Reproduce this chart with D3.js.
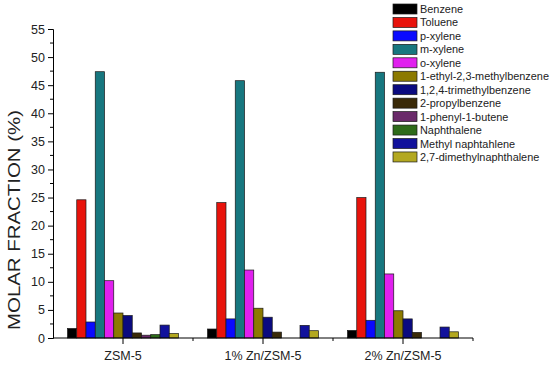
<!DOCTYPE html>
<html>
<head>
<meta charset="utf-8">
<script src="https://cdn.jsdelivr.net/npm/d3@7"></script>
<style>
  body { margin: 0; background: #fff; }
  svg { font-family: Arial, "Liberation Sans", sans-serif; }
</style>
</head>
<body>
<svg id="chart" width="550" height="370"></svg>
<script>
// catalysts (x groups)
let groups = ['ZSM-5', '1% Zn/ZSM-5', '2% Zn/ZSM-5'];

// compounds (series)
let compounds = ['Benzene', 'Toluene', 'p-xylene', 'm-xylene', 'o-xylene',
	'1-ethyl-2,3-methylbenzene', '1,2,4-trimethylbenzene', '2-propylbenzene',
	'1-phenyl-1-butene', 'Naphthalene', 'Methyl naphtahlene', '2,7-dimethylnaphthalene'];

let compoundColors = ['#000000', '#e8130c', '#0a0aff', '#17777f', '#e020ee',
	'#8c7a00', '#0a0a80', '#3a2a08', '#6a2a6a', '#2e6b1a', '#12129c', '#b3a820'];

// molar fraction (%) per compound, one array per catalyst
let valuesZSM5 = [1.7, 24.6, 2.85, 47.4, 10.2, 4.45, 4.0, 0.9, 0.5, 0.6, 2.3, 0.8];
let valuesZn1 = [1.6, 24.1, 3.4, 45.8, 12.1, 5.3, 3.7, 1.05, 0, 0, 2.25, 1.3];
let valuesZn2 = [1.35, 25.0, 3.15, 47.3, 11.4, 4.85, 3.4, 1.0, 0, 0, 1.95, 1.1];

let yTicks = [0, 5, 10, 15, 20, 25, 30, 35, 40, 45, 50, 55];

let allValues = [valuesZSM5, valuesZn1, valuesZn2];

let svg = d3.select('#chart');

let x0 = d3.scaleBand().domain(groups).range([53, 473]);
let x1 = d3.scaleBand().domain(compounds).range([14.5, x0.bandwidth() - 14.5]);
let y = d3.scaleLinear().domain([0, 55]).range([338, 29]);

// bars
groups.forEach(function (g, gi) {
	let grp = svg.append('g').attr('transform', 'translate(' + x0(g) + ',0)');
	grp.selectAll('rect')
		.data(compounds.map(function (c, ci) { return {name: c, value: allValues[gi][ci], color: compoundColors[ci]}; })
			.filter(function (d) { return d.value > 0; }))
		.enter().append('rect')
		.attr('x', function (d) { return x1(d.name); })
		.attr('y', function (d) { return y(d.value); })
		.attr('width', x1.bandwidth())
		.attr('height', function (d) { return y(0) - y(d.value); })
		.attr('fill', function (d) { return d.color; })
		.attr('stroke', '#1a1a1a')
		.attr('stroke-width', 0.7);
});

// y axis
let yAxis = d3.axisLeft(y).tickValues(yTicks).tickSize(5).tickPadding(3);
let gy = svg.append('g').attr('transform', 'translate(53,0)').call(yAxis);
gy.select('.domain').attr('stroke', '#000');
gy.selectAll('.tick text').attr('font-size', 12.5).attr('fill', '#222');
// minor ticks
let minor = d3.range(2.5, 55, 5);
gy.selectAll('.minor').data(minor).enter().append('line')
	.attr('x1', 0).attr('x2', -3)
	.attr('y1', function (d) { return y(d); })
	.attr('y2', function (d) { return y(d); })
	.attr('stroke', '#000');

// x axis
let gx = svg.append('g').attr('transform', 'translate(0,338)');
gx.append('line').attr('x1', 53).attr('x2', 473).attr('y1', 0).attr('y2', 0).attr('stroke', '#000');
gx.selectAll('.major').data(groups).enter().append('line')
	.attr('x1', function (d) { return x0(d) + x0.bandwidth() / 2; })
	.attr('x2', function (d) { return x0(d) + x0.bandwidth() / 2; })
	.attr('y1', 0).attr('y2', 6).attr('stroke', '#000');
gx.selectAll('.minorx').data(groups.slice(1).concat(['end'])).enter().append('line')
	.attr('x1', function (d) { return d === 'end' ? x0.range()[1] : x0(d); })
	.attr('x2', function (d) { return d === 'end' ? x0.range()[1] : x0(d); })
	.attr('y1', 0).attr('y2', 3).attr('stroke', '#000');
gx.selectAll('.lab').data(groups).enter().append('text')
	.attr('x', function (d) { return x0(d) + x0.bandwidth() / 2; })
	.attr('y', 22)
	.attr('text-anchor', 'middle')
	.attr('font-size', 12.5)
	.attr('fill', '#222')
	.text(function (d) { return d; });

// y label
svg.append('text')
	.attr('transform', 'translate(20,220) rotate(-90)')
	.attr('text-anchor', 'middle')
	.attr('font-size', 16)
	.attr('textLength', 220)
	.attr('lengthAdjust', 'spacingAndGlyphs')
	.attr('fill', '#222')
	.text('MOLAR FRACTION (%)');

// legend
let legend = svg.append('g');
compounds.forEach(function (c, i) {
	let ly = 4 + i * 13.45;
	legend.append('rect')
		.attr('x', 393).attr('y', ly)
		.attr('width', 24).attr('height', 10)
		.attr('fill', compoundColors[i])
		.attr('stroke', '#1a1a1a')
		.attr('stroke-width', 0.7);
	legend.append('text')
		.attr('x', 420).attr('y', ly + 9)
		.attr('font-size', 10.9)
		.attr('fill', '#222')
		.text(c);
});
</script>
</body>
</html>
